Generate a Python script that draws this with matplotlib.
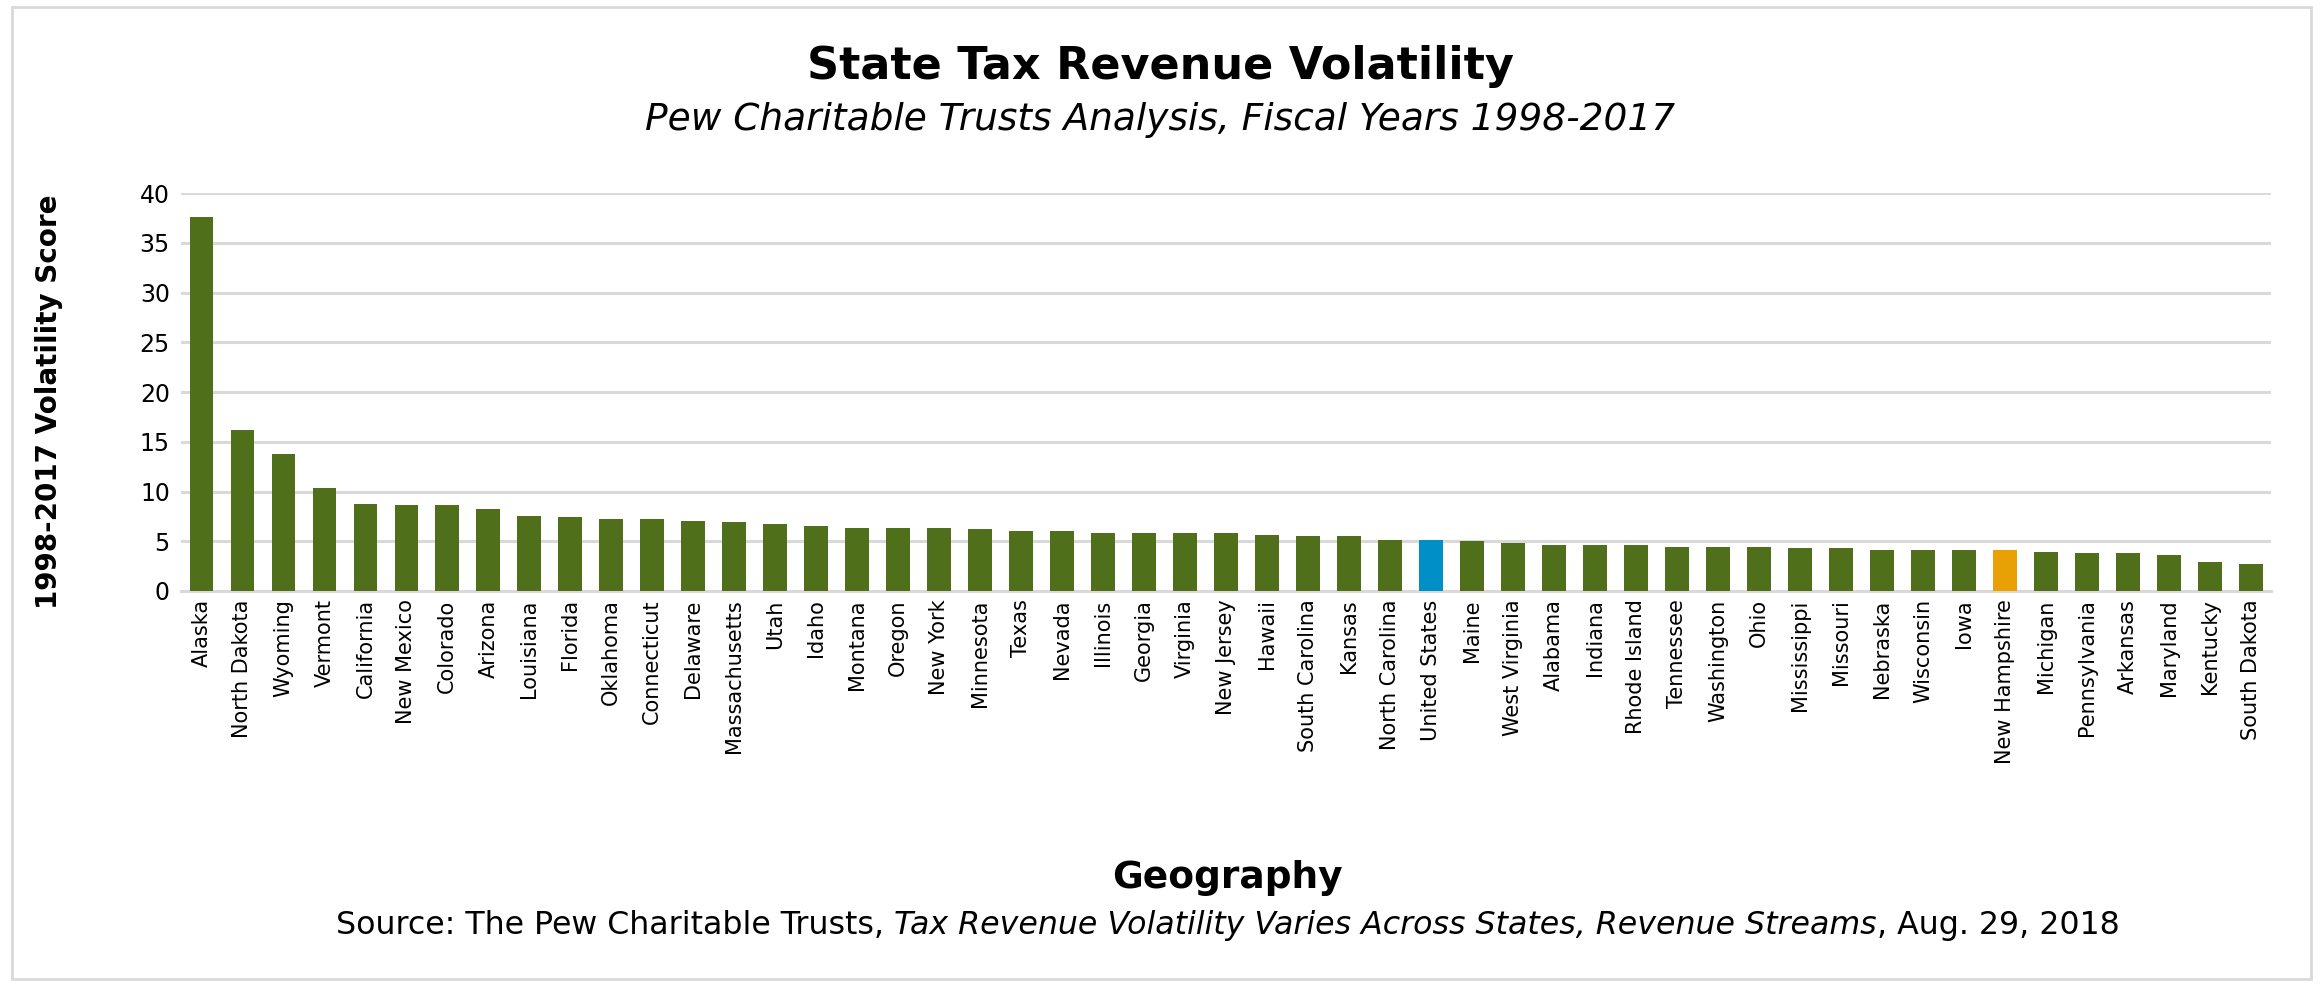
import matplotlib
matplotlib.use('Agg')
import matplotlib.pyplot as plt
from matplotlib.patches import Rectangle

states = ['Alaska', 'North Dakota', 'Wyoming', 'Vermont', 'California', 'New Mexico',
          'Colorado', 'Arizona', 'Louisiana', 'Florida', 'Oklahoma', 'Connecticut',
          'Delaware', 'Massachusetts', 'Utah', 'Idaho', 'Montana', 'Oregon', 'New York',
          'Minnesota', 'Texas', 'Nevada', 'Illinois', 'Georgia', 'Virginia', 'New Jersey',
          'Hawaii', 'South Carolina', 'Kansas', 'North Carolina', 'United States', 'Maine',
          'West Virginia', 'Alabama', 'Indiana', 'Rhode Island', 'Tennessee', 'Washington',
          'Ohio', 'Mississippi', 'Missouri', 'Nebraska', 'Wisconsin', 'Iowa',
          'New Hampshire', 'Michigan', 'Pennsylvania', 'Arkansas', 'Maryland', 'Kentucky',
          'South Dakota']
scores = [37.6, 16.2, 13.8, 10.4, 8.7, 8.6, 8.6, 8.2, 7.5, 7.4, 7.2, 7.2,
          7.0, 6.9, 6.7, 6.5, 6.3, 6.3, 6.3, 6.2, 6.0, 6.0, 5.8, 5.8, 5.8, 5.8,
          5.6, 5.5, 5.5, 5.1, 5.1, 5.0, 4.8, 4.6, 4.6, 4.6, 4.4, 4.4,
          4.4, 4.3, 4.3, 4.1, 4.1, 4.1, 4.1, 3.9, 3.8, 3.8, 3.6, 2.9, 2.7]
highlight = {'United States': '#0090c8', 'New Hampshire': '#e9a005'}
yticks = [0, 5, 10, 15, 20, 25, 30, 35, 40]

green = '#4f6f1b'
grid_c = '#d9d9d9'
colors = [highlight.get(s, green) for s in states]

fig = plt.figure(figsize=(23.2, 9.85), dpi=100)
ax = fig.add_axes([0.078, 0.400, 0.901, 0.404])

x = range(len(states))
ax.bar(x, scores, width=0.58, color=colors, zorder=3)

ax.set_xlim(-0.5, len(states) - 0.5)
ax.set_ylim(0, 40)
ax.set_yticks(yticks)
ax.set_yticklabels([str(v) for v in yticks], fontsize=17)
ax.set_xticks(list(x))
ax.set_xticklabels(states, rotation=90, fontsize=15)
ax.tick_params(length=0, pad=8)
ax.tick_params(axis='x', pad=6)
ax.yaxis.grid(True, color=grid_c, linewidth=2.2, zorder=0)
for sp in ['top', 'right', 'left']:
    ax.spines[sp].set_visible(False)
ax.spines['bottom'].set_color(grid_c)
ax.spines['bottom'].set_linewidth(2.2)

fig.text(0.5, 0.932, 'State Tax Revenue Volatility', ha='center', va='center',
         fontsize=32, fontweight='bold')
fig.text(0.5, 0.878, 'Pew Charitable Trusts Analysis, Fiscal Years 1998-2017',
         ha='center', va='center', fontsize=27, style='italic')
fig.text(0.021, 0.592, '1998-2017 Volatility Score', rotation=90, ha='center',
         va='center', fontsize=20, fontweight='bold')
fig.text(0.529, 0.109, 'Geography', ha='center', va='center', fontsize=27,
         fontweight='bold')

# source line with an italic title in the middle
parts = [('Source: The Pew Charitable Trusts, ', 'normal'),
         ('Tax Revenue Volatility Varies Across States, Revenue Streams', 'italic'),
         (', Aug. 29, 2018', 'normal')]
fig.canvas.draw()
renderer = fig.canvas.get_renderer()
xpos = 0.145
for txt, st in parts:
    t = fig.text(xpos, 0.052, txt, ha='left', va='baseline', fontsize=22.8, style=st)
    w = t.get_window_extent(renderer).width
    xpos += w / fig.bbox.width

fig.patches.append(Rectangle((0.005, 0.006), 0.991, 0.987, transform=fig.transFigure,
                             fill=False, edgecolor=grid_c, linewidth=2))

fig.savefig('out.png', dpi=100)
